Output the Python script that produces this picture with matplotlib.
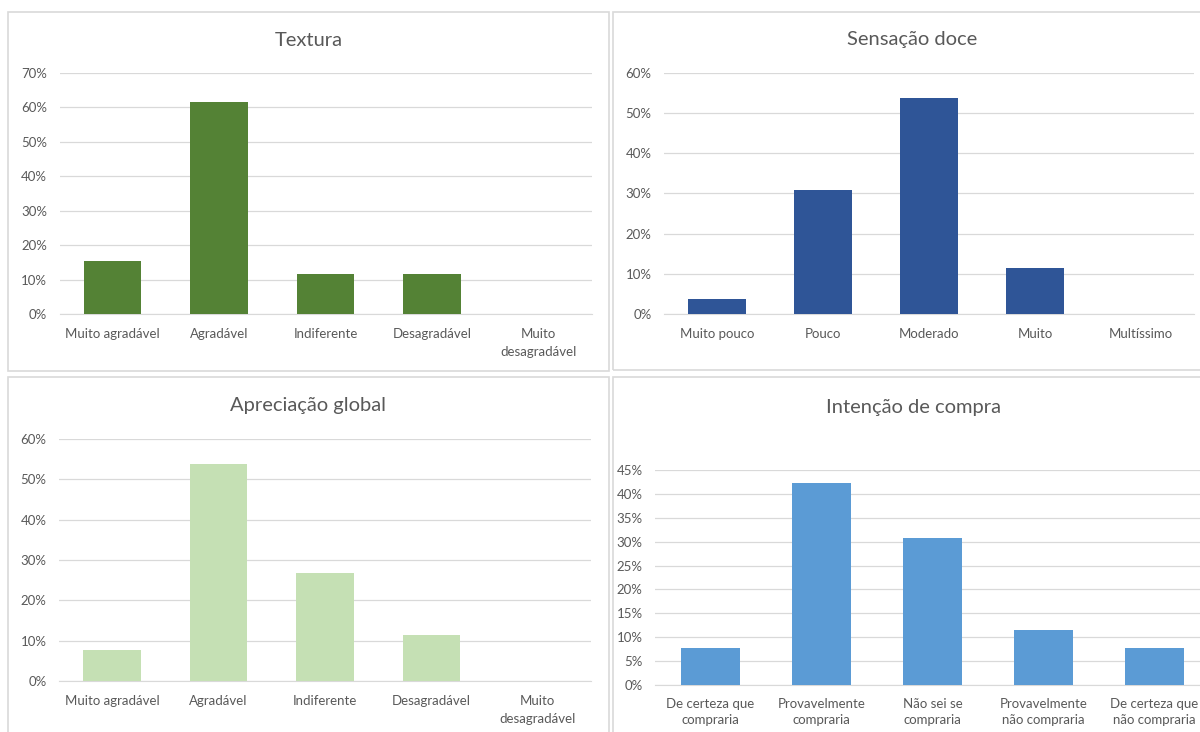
import matplotlib
matplotlib.use("Agg")
import matplotlib.pyplot as plt
from matplotlib.patches import Rectangle
from matplotlib.ticker import MultipleLocator, PercentFormatter

W, H = 1200, 732
TEXT_GREY = '#595959'
GRID_GREY = '#d9d9d9'

AGRADO_CATS = ['Muito agradável', 'Agradável', 'Indiferente', 'Desagradável',
               'Muito\ndesagradável']
DOCE_CATS = ['Muito pouco', 'Pouco', 'Moderado', 'Muito', 'Multíssimo']
COMPRA_CATS = ['De certeza que\ncompraria', 'Provavelmente\ncompraria',
               'Não sei se\ncompraria', 'Provavelmente\nnão compraria',
               'De certeza que\nnão compraria']

textura = [0.154, 0.615, 0.115, 0.115, 0.0]
doce = [0.038, 0.308, 0.538, 0.115, 0.0]
apreciacao = [0.077, 0.538, 0.269, 0.115, 0.0]
compra = [0.077, 0.423, 0.308, 0.115, 0.077]

plt.rcParams['font.family'] = ['Lato', 'DejaVu Sans']


def px_rect(x0, y0, x1, y1):
    # pixel box (top-left origin) -> figure fraction [left, bottom, width, height]
    return [x0 / W, 1 - y1 / H, (x1 - x0) / W, (y1 - y0) / H]


def draw_panel(fig, box, plot, title, title_xy, cats, vals, color, ymax, step,
               xpad=10, spacing=1.6):
    l, b, w, h = px_rect(*box)
    fig.add_artist(Rectangle((l, b), w, h, transform=fig.transFigure,
                             fill=False, edgecolor=GRID_GREY, linewidth=1.2))
    fig.text(title_xy[0] / W, 1 - title_xy[1] / H, title, ha='center', va='center',
             fontsize=14.5, color=TEXT_GREY)

    ax = fig.add_axes(px_rect(*plot))
    ax.bar(range(len(vals)), vals, width=0.54, color=color, zorder=3)
    ax.set_xlim(-0.5, len(vals) - 0.5)
    ax.set_ylim(0, ymax)
    ax.yaxis.set_major_locator(MultipleLocator(step))
    ax.yaxis.set_major_formatter(PercentFormatter(xmax=1, decimals=0))
    ax.set_xticks(range(len(cats)))
    ax.set_xticklabels(cats, linespacing=spacing)
    ax.grid(axis='y', color=GRID_GREY, linewidth=0.9, zorder=0)
    for side in ['top', 'right', 'left']:
        ax.spines[side].set_visible(False)
    ax.spines['bottom'].set_color(GRID_GREY)
    ax.tick_params(axis='x', length=0, pad=xpad, labelsize=9.5, colors=TEXT_GREY)
    ax.tick_params(axis='y', length=0, pad=9, labelsize=9.5, colors=TEXT_GREY)
    return ax


fig = plt.figure(figsize=(W / 100, H / 100), dpi=100)

draw_panel(fig, (8, 12, 609, 371), (59.5, 73, 591.5, 314), 'Textura', (309, 40),
           AGRADO_CATS, textura, '#548235', 0.7, 0.1)
draw_panel(fig, (613, 12, 1210, 370), (664, 73, 1194, 314), 'Sensação doce', (912, 40),
           DOCE_CATS, doce, '#2f5597', 0.6, 0.1)
draw_panel(fig, (8, 377, 609, 745), (59, 439, 591, 681), 'Apreciação global', (308, 405),
           AGRADO_CATS, apreciacao, '#c5e0b4', 0.6, 0.1)
draw_panel(fig, (613, 377, 1210, 745), (655, 470, 1210, 685), 'Intenção de compra', (913, 407),
           COMPRA_CATS, compra, '#5b9bd5', 0.45, 0.05, xpad=9, spacing=1.5)

fig.savefig('out.png', dpi=100, facecolor='white')
